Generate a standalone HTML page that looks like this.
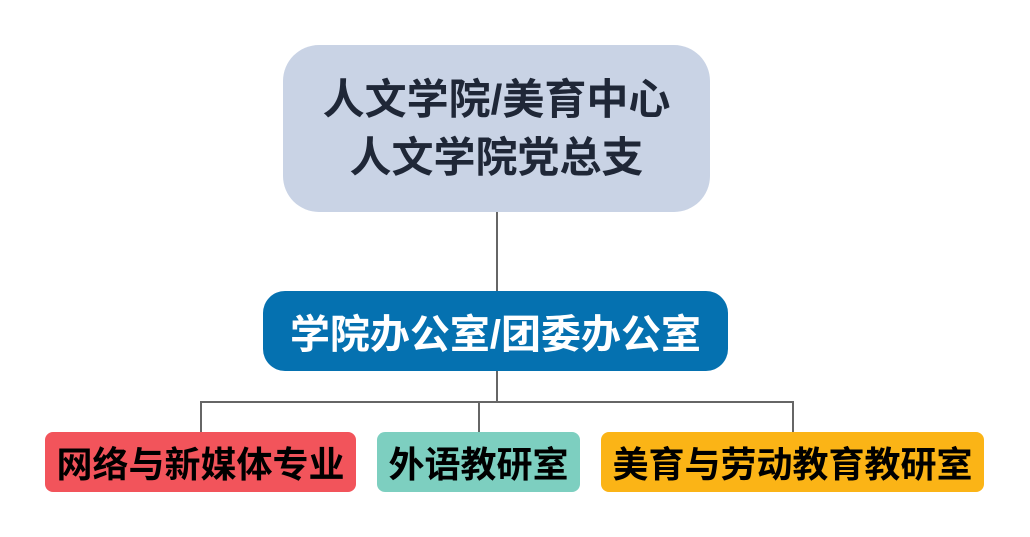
<!DOCTYPE html>
<html><head><meta charset="utf-8"><style>
body{margin:0;width:1030px;height:537px;background:#fff;position:relative;overflow:hidden;font-family:"Liberation Sans","Noto Sans CJK SC",sans-serif;font-weight:bold}
.b{position:absolute;display:flex;align-items:center;justify-content:center;text-align:center;box-sizing:border-box;white-space:nowrap}
.l{position:absolute;background:#666}
</style></head><body>
<div class="l" style="left:496px;top:212px;width:2px;height:79px"></div>
<div class="l" style="left:496px;top:371px;width:2px;height:32px"></div>
<div class="l" style="left:200px;top:401px;width:594px;height:2px"></div>
<div class="l" style="left:200px;top:401px;width:2px;height:31px"></div>
<div class="l" style="left:478px;top:401px;width:2px;height:31px"></div>
<div class="l" style="left:792px;top:401px;width:2px;height:31px"></div>
<div class="b" style="left:283px;top:45px;width:427px;height:167px;border-radius:36px;background:#c9d3e5;color:#1f2737;font-size:42px;line-height:58px">人文学院/美育中心<br>人文学院党总支</div>
<div class="b" style="left:263px;top:291px;width:465px;height:80px;border-radius:22px;background:#0571b0;color:#fff;font-size:40px">学院办公室/团委办公室</div>
<div class="b" style="left:45px;top:432px;width:311px;height:60px;border-radius:8px;background:#f2545b;color:#000;font-size:36px">网络与新媒体专业</div>
<div class="b" style="left:377px;top:432px;width:203px;height:60px;border-radius:8px;background:#7dcfc0;color:#000;font-size:36px">外语教研室</div>
<div class="b" style="left:601px;top:432px;width:383px;height:60px;border-radius:8px;background:#fbb416;color:#000;font-size:36px">美育与劳动教育教研室</div>
</body></html>
